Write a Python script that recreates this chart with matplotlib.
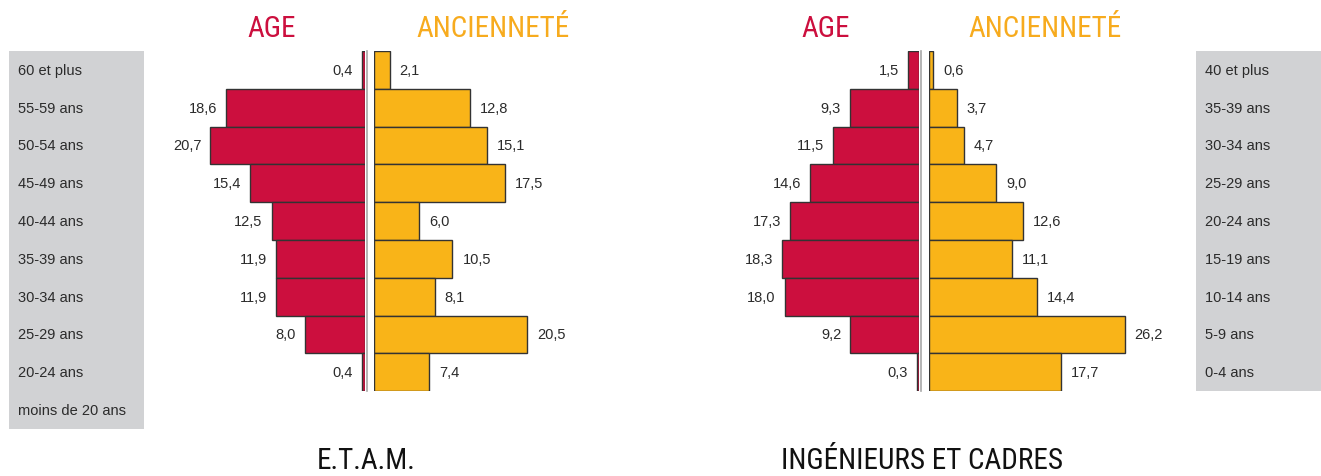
import matplotlib.pyplot as plt
from matplotlib import font_manager
from matplotlib.lines import Line2D

W, H = 1321, 477

# E.T.A.M. panel (rows from top to bottom)
etam_rows = ['60 et plus', '55-59 ans', '50-54 ans', '45-49 ans', '40-44 ans',
             '35-39 ans', '30-34 ans', '25-29 ans', '20-24 ans', 'moins de 20 ans']
etam_age = [0.4, 18.6, 20.7, 15.4, 12.5, 11.9, 11.9, 8.0, 0.4]
etam_anc = [2.1, 12.8, 15.1, 17.5, 6.0, 10.5, 8.1, 20.5, 7.4]

# Ingénieurs et cadres panel
ic_rows = ['40 et plus', '35-39 ans', '30-34 ans', '25-29 ans', '20-24 ans',
           '15-19 ans', '10-14 ans', '5-9 ans', '0-4 ans']
ic_age = [1.5, 9.3, 11.5, 14.6, 17.3, 18.3, 18.0, 9.2, 0.3]
ic_anc = [0.6, 3.7, 4.7, 9.0, 12.6, 11.1, 14.4, 26.2, 17.7]

RED = '#cc0f3e'
ORANGE = '#f9b418'
HEAD_ORANGE = '#f7ab1e'
EDGE = '#333333'
BOXGRAY = '#d1d2d4'
TXT = '#2b2b2b'
PX_PER_UNIT = 7.47
ROW_H = 37.8
TOP = 52

plt.rcParams['font.family'] = ['Liberation Sans', 'DejaVu Sans']

# headings use a condensed face when one is installed
fonts = font_manager.fontManager.ttflist
names = {f.name for f in fonts}
head_kw = None
for cand in ['Roboto Condensed', 'Liberation Sans Narrow', 'Open Sans Condensed']:
    if cand in names:
        head_kw = dict(family=[cand, 'DejaVu Sans'], fontsize=21, fontstretch='condensed')
        break
if head_kw is None:
    if any(f.name == 'DejaVu Sans' and f.stretch == 'condensed' for f in fonts):
        head_kw = dict(family=['DejaVu Sans'], fontsize=19, fontstretch='condensed')
    else:
        head_kw = dict(family=['Liberation Sans'], fontsize=17)

fig = plt.figure(figsize=(W / 100, H / 100), dpi=100)
fig.patch.set_facecolor('white')


def px_axes(x0, y0, x1, y1):
    ax = fig.add_axes([x0 / W, 1 - y1 / H, (x1 - x0) / W, (y1 - y0) / H])
    ax.set_axis_off()
    return ax


def fmt(v):
    return f'{v:.1f}'.replace('.', ',')


def label_box(x0, x1, rows):
    n = len(rows)
    ax = px_axes(x0, TOP, x1, TOP + n * ROW_H)
    ax.set_axis_on()
    ax.set_facecolor(BOXGRAY)
    for s in ax.spines.values():
        s.set_visible(False)
    ax.set_xticks([])
    ax.set_yticks([])
    ax.set_xlim(0, x1 - x0)
    ax.set_ylim(n - 0.5, -0.5)
    for i, r in enumerate(rows):
        ax.text(9, i, r, ha='left', va='center', fontsize=10.5, color=TXT)


def pyramid(center_l, center_r, left_px, right_px, age, anc):
    n = len(age)
    y0, y1 = TOP, TOP + n * ROW_H
    ys = list(range(n))
    # thin grey rule just right of the age bars
    fig.add_artist(Line2D([(center_l + 2) / W] * 2, [1 - y0 / H, 1 - y1 / H],
                          color='#a8a8a8', lw=1.2))
    ax_a = px_axes(left_px, y0, center_l, y1)
    ax_a.set_xlim((center_l - left_px) / PX_PER_UNIT, 0)
    ax_a.set_ylim(n - 0.5, -0.5)
    ax_a.barh(ys, age, height=1.0, color=RED, edgecolor=EDGE, linewidth=1.0)
    for y, v in zip(ys, age):
        ax_a.annotate(fmt(v), (v, y), xytext=(-9, 0), textcoords='offset pixels',
                      ha='right', va='center', fontsize=10.5, color=TXT)

    ax_b = px_axes(center_r, y0, right_px, y1)
    ax_b.set_xlim(0, (right_px - center_r) / PX_PER_UNIT)
    ax_b.set_ylim(n - 0.5, -0.5)
    ax_b.barh(ys, anc, height=1.0, color=ORANGE, edgecolor=EDGE, linewidth=1.0)
    for y, v in zip(ys, anc):
        ax_b.annotate(fmt(v), (v, y), xytext=(10, 0), textcoords='offset pixels',
                      ha='left', va='center', fontsize=10.5, color=TXT)


label_box(9, 144, etam_rows)
label_box(1196, 1321, ic_rows)

pyramid(365, 374, 150, 640, etam_age, etam_anc)
pyramid(919, 929, 690, 1190, ic_age, ic_anc)


def ftext(x, y, s, color):
    fig.text(x / W, 1 - y / H, s, ha='center', va='center', color=color, **head_kw)


ftext(272, 29, 'AGE', RED)
ftext(493, 29, 'ANCIENNETÉ', HEAD_ORANGE)
ftext(826, 29, 'AGE', RED)
ftext(1045, 29, 'ANCIENNETÉ', HEAD_ORANGE)

ftext(366, 461, 'E.T.A.M.', '#111111')
ftext(922, 461, 'INGÉNIEURS ET CADRES', '#111111')

fig.savefig('out.png', dpi=100)
